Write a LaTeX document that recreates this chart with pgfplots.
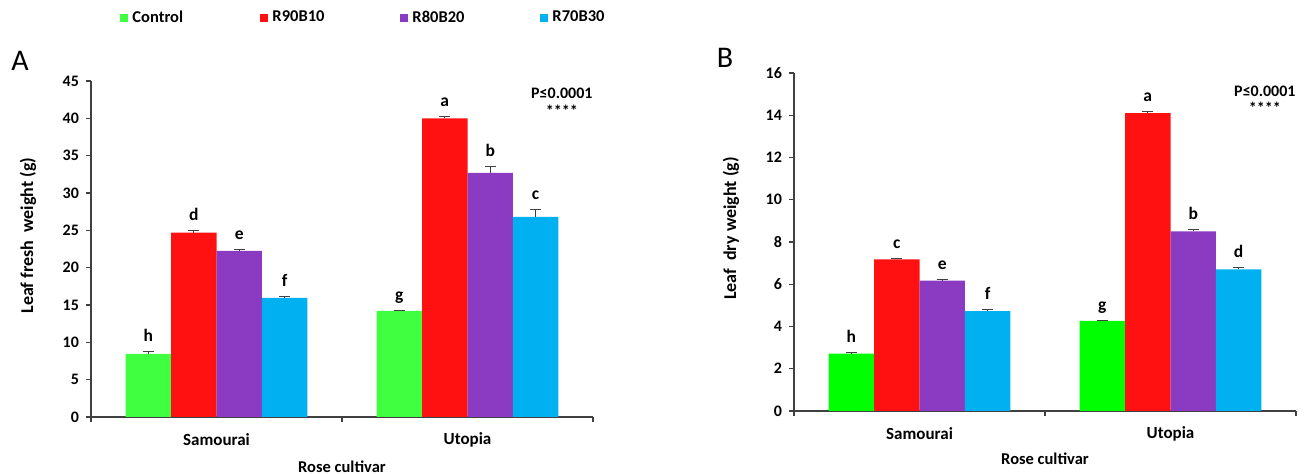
\documentclass[border=0pt]{standalone}
\usepackage{fontspec}
\setmainfont{Carlito}
\usepackage{pgfplots}
\pgfplotsset{compat=1.18}
\usepackage{pgfplotstable}

\definecolor{cgreen}{HTML}{40FF40}
\definecolor{cgreenB}{HTML}{00FF00}
\definecolor{cred}{HTML}{FF1111}
\definecolor{cpurple}{HTML}{8A3BC2}
\definecolor{cblue}{HTML}{00B0F0}
\definecolor{axgray}{HTML}{404040}

\pgfplotstableread{
x  c     ec    r9    er9   r8    er8   r7    er7
0  8.45  0.30  24.70 0.30  22.25 0.20  15.95 0.20
1  14.20 0.10  40.00 0.25  32.70 0.80  26.80 1.00
}\dataA

\pgfplotstableread{
x  c     ec    r9    er9   r8    er8   r7    er7
0  2.72  0.03  7.18  0.06  6.17  0.06  4.73  0.06
1  4.27  0.03  14.10 0.10  8.50  0.10  6.70  0.07
}\dataB

\tikzset{
  lett/.style={font=\fontsize{8.75}{10}\selectfont\bfseries, anchor=base, yshift=5pt, inner sep=0pt},
  ptext/.style={font=\fontsize{8}{10}\selectfont\bfseries, anchor=base, inner sep=0pt},
}

\pgfplotsset{
  mybars/.style={
    scale only axis, width=251pt,
    ybar, bar width=0.181,
    xmin=-0.5, xmax=1.5, ymin=0,
    axis lines=left, axis line style={-, draw=axgray, line width=0.6pt},
    tick align=outside,
    major tick length=2.5pt, minor tick length=2.5pt,
    xtick={0,1}, xticklabels={Samourai,Utopia},
    major x tick style={draw=none},
    minor xtick={-0.5,0.5,1.5},
    minor x tick style={draw=axgray, line width=0.6pt},
    y tick style={draw=axgray, line width=0.6pt},
    /pgf/number format/assume math mode=true,
    yticklabel style={font=\fontsize{8}{9}\selectfont\bfseries},
    xticklabel style={font=\fontsize{8.5}{10}\selectfont\bfseries, anchor=center, yshift=-9pt},
    xlabel={Rose cultivar},
    xlabel style={font=\fontsize{8.25}{10}\selectfont\bfseries, anchor=center},
    ylabel style={font=\fontsize{9}{10}\selectfont\bfseries, at={(rel axis cs:-0.1255,0.54)}, anchor=center},
    error bars/y dir=plus, error bars/y explicit,
    error bars/error bar style={draw=axgray, line width=0.5pt},
    error bars/error mark options={rotate=90, mark size=2.75pt, draw=axgray, line width=0.5pt},
    clip=false,
  },
}

\begin{document}
\begin{tikzpicture}
\path[use as bounding box] (0,0) rectangle (654.5pt,237pt);

% Panel A
\begin{axis}[mybars,
  at={(45.5pt,28.5pt)}, anchor=south west,
  height=168pt, ymax=45, ytick={0,5,...,45},
  ylabel={Leaf fresh~ weight (g)},
  xlabel style={at={(rel axis cs:0.5,-0.149)}},
  legend columns=4,
  legend style={draw=none, fill=none, at={(rel axis cs:0.046,1.1875)}, anchor=west,
    font=\fontsize{8.25}{10}\selectfont\bfseries,
    /tikz/every even column/.append style={column sep=0pt}},
  legend image code/.code={\fill[#1] (0pt,-2pt) rectangle (4pt,2pt);},
]
\addplot[fill=cgreen, draw=none, bar shift=-0.2715] table[x=x, y=c, y error=ec] {\dataA};
\addplot[fill=cred, draw=none, bar shift=-0.0905] table[x=x, y=r9, y error=er9] {\dataA};
\addplot[fill=cpurple, draw=none, bar shift=0.0905] table[x=x, y=r8, y error=er8] {\dataA};
\addplot[fill=cblue, draw=none, bar shift=0.2715] table[x=x, y=r7, y error=er7] {\dataA};
\legend{\makebox[62pt][l]{Control},\makebox[62pt][l]{R90B10},\makebox[62pt][l]{R80B20},\makebox[62pt][l]{R70B30}}
\node[lett] at (axis cs:-0.2715,8.75) {h};
\node[lett] at (axis cs:-0.0905,25.0) {d};
\node[lett] at (axis cs:0.0905,22.45) {e};
\node[lett] at (axis cs:0.2715,16.15) {f};
\node[lett] at (axis cs:0.7285,14.3) {g};
\node[lett] at (axis cs:0.9095,40.25) {a};
\node[lett] at (axis cs:1.0905,33.5) {b};
\node[lett] at (axis cs:1.2715,27.8) {c};
\node[ptext] at (axis cs:1.376,42.6) {P≤0.0001};
\node[ptext] at (axis cs:1.376,40.2) {****};
\end{axis}

% Panel B
\begin{axis}[mybars,
  at={(397pt,31.5pt)}, anchor=south west,
  height=169pt, ymax=16, ytick={0,2,...,16},
  ylabel={Leaf~ dry weight (g)},
  xlabel style={at={(rel axis cs:0.5,-0.142)}},
]
\addplot[fill=cgreenB, draw=none, bar shift=-0.2715] table[x=x, y=c, y error=ec] {\dataB};
\addplot[fill=cred, draw=none, bar shift=-0.0905] table[x=x, y=r9, y error=er9] {\dataB};
\addplot[fill=cpurple, draw=none, bar shift=0.0905] table[x=x, y=r8, y error=er8] {\dataB};
\addplot[fill=cblue, draw=none, bar shift=0.2715] table[x=x, y=r7, y error=er7] {\dataB};
\node[lett] at (axis cs:-0.2715,2.75) {h};
\node[lett] at (axis cs:-0.0905,7.24) {c};
\node[lett] at (axis cs:0.0905,6.23) {e};
\node[lett] at (axis cs:0.2715,4.79) {f};
\node[lett] at (axis cs:0.7285,4.30) {g};
\node[lett] at (axis cs:0.9095,14.2) {a};
\node[lett] at (axis cs:1.0905,8.6) {b};
\node[lett] at (axis cs:1.2715,6.77) {d};
\node[ptext] at (axis cs:1.376,14.9) {P≤0.0001};
\node[ptext] at (axis cs:1.376,14.1) {****};
\end{axis}

\node[font=\fontsize{15}{17}\selectfont] at (10pt,206.5pt) {A};
\node[font=\fontsize{15}{17}\selectfont] at (362.5pt,208pt) {B};
\end{tikzpicture}
\end{document}
